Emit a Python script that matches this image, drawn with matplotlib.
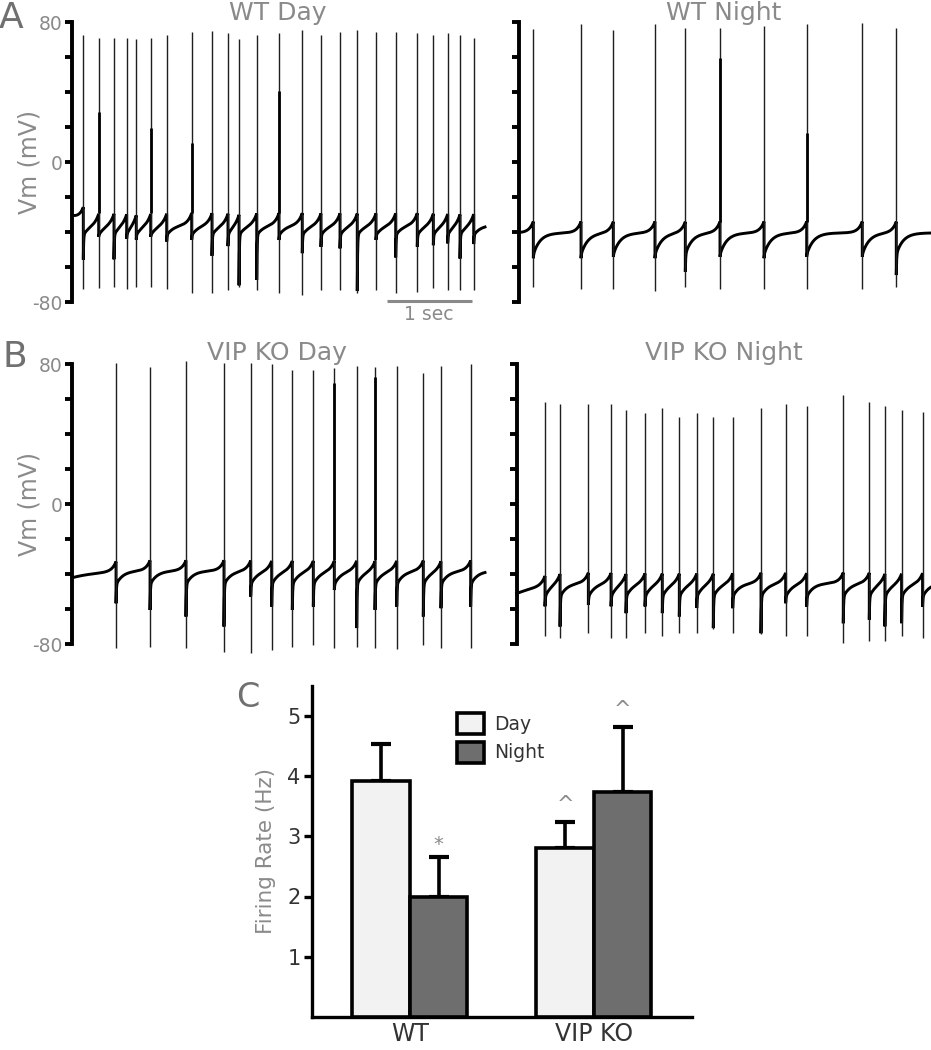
import numpy as np
import matplotlib
matplotlib.use("Agg")
import matplotlib.pyplot as plt

plt.rcParams['font.family'] = ['DejaVu Sans']

# ---------------- data ----------------
# spike times (s), spike peak / trough (mV), after-spike dip (mV)
wt_day_t = [0.133, 0.314, 0.494, 0.643, 0.756, 0.926, 1.114, 1.408, 1.647, 1.835, 1.965, 2.173,
            2.435, 2.709, 2.929, 3.153, 3.356, 3.576, 3.808, 4.062, 4.251, 4.420, 4.565, 4.726]
wt_day_peak = [72.6, 71.0, 71.0, 71.0, 70.1, 71.0, 72.6, 74.1, 74.9, 73.5, 70.1, 72.6,
               73.5, 75.4, 72.6, 74.1, 75.4, 74.1, 74.1, 73.5, 72.6, 73.5, 72.6, 71.0]
wt_day_trough = [-72.8, -72.2, -71.6, -72.8, -71.6, -71.6, -72.8, -75.0, -75.0, -73.1, -71.6, -73.1,
                 -75.0, -76.0, -73.1, -73.1, -75.0, -73.1, -75.0, -74.1, -72.2, -73.1, -73.1, -73.1]
wt_day_dip = [-56.0, -42.9, -56.0, -44.6, -44.6, -42.9, -45.5, -44.6, -53.8, -48.6, -70.6, -67.4,
              -44.6, -52.2, -48.6, -49.5, -73.8, -44.6, -54.6, -48.6, -47.8, -46.9, -55.5, -46.9]
wt_day_thick = {1: 28.8, 5: 19.3, 7: 10.7, 12: 40.7}

wt_night_t = [0.165, 0.726, 1.106, 1.596, 1.953, 2.361, 2.879, 3.381, 4.035, 4.435]
wt_night_peak = [76.0, 78.7, 75.4, 78.7, 76.4, 76.4, 77.7, 78.7, 79.6, 76.4]
wt_night_trough = [-71.2, -72.8, -72.8, -73.5, -71.6, -72.8, -72.8, -72.8, -72.8, -71.2]
wt_night_dip = [-55.0, -55.0, -54.2, -55.0, -62.7, -54.2, -55.0, -54.2, -54.2, -64.6]
wt_night_thick = {5: 59.3, 7: 16.8}

ko_day_t = [0.518, 0.918, 1.341, 1.788, 2.102, 2.349, 2.592, 2.839, 3.086, 3.349, 3.565,
            3.820, 4.133, 4.341, 4.690]
ko_day_peak = [81.0, 78.7, 82.1, 81.0, 81.0, 80.0, 76.8, 76.8, 77.7, 79.0, 78.7, 79.0, 74.9, 79.0, 80.0]
ko_day_trough = [-82.3, -81.3, -82.3, -84.2, -85.1, -83.2, -81.3, -80.4, -82.3, -81.3, -82.3,
                 -82.8, -80.4, -82.3, -82.3]
ko_day_dip = [-56.6, -60.4, -64.2, -69.9, -52.8, -58.5, -60.4, -58.5, -49.0, -70.8, -60.4,
              -58.5, -64.2, -59.4, -58.5]
ko_day_thick = {8: 69.2, 10: 73.0}

ko_night_t = [0.333, 0.510, 0.843, 1.110, 1.286, 1.510, 1.713, 1.913, 2.118, 2.313, 2.541,
              2.874, 3.164, 3.411, 3.842, 4.148, 4.332, 4.528, 4.775]
ko_night_peak = [58.6, 57.3, 57.3, 57.3, 53.9, 52.0, 55.2, 49.7, 52.0, 49.7, 49.7,
                 54.9, 57.3, 56.2, 62.5, 58.6, 56.2, 53.9, 53.0]
ko_night_trough = [-75.2, -76.6, -73.7, -76.6, -76.6, -73.7, -75.2, -73.7, -73.7, -71.4, -73.7,
                   -74.1, -75.2, -75.2, -79.4, -77.9, -77.9, -75.2, -76.6]
ko_night_dip = [-58.5, -69.9, -57.5, -58.5, -62.3, -58.5, -62.3, -64.2, -59.4, -70.8, -59.4,
                -73.7, -56.6, -58.5, -68.0, -66.1, -69.9, -68.0, -58.5]
ko_night_thick = {}

# resting / post-spike / pre-spike / starting levels (mV) per recording
wt_day_levels = dict(rest=-36.0, post=-42.0, thr=-29.0, start=-31.0)
wt_night_levels = dict(rest=-40.5, post=-53.0, thr=-34.0, start=-40.5)
ko_day_levels = dict(rest=-38.0, post=-46.0, thr=-32.0, start=-42.0)
ko_night_levels = dict(rest=-45.0, post=-53.0, thr=-39.0, start=-51.0)

# bar chart (C)
groups = ['WT', 'VIP KO']
day_rate = [3.92, 2.80]
day_sem = [0.62, 0.44]
night_rate = [2.00, 3.73]
night_sem = [0.65, 1.08]

# ---------------- styling ----------------
GREY = '#8a8a8a'
W, H = 931, 1050
SEC_PX = 85.0  # pixels per second in the traces


def fx(px):
    return px / W


def fy(py):
    return 1 - py / H


def build_trace(t_spk, dip, rest, post, thr, start, t_end, tau=0.08, tau_ramp=0.05):
    ts, vs = [], []
    edges = [0.0] + list(t_spk) + [t_end]
    for i in range(len(edges) - 1):
        a, b = edges[i], edges[i + 1]
        t = np.linspace(a, b, 160)
        dt = t - a
        if i == 0:
            v = rest + (start - rest) * np.exp(-dt / 0.3)
        else:
            d = dip[i - 1]
            v = rest + (post - rest) * np.exp(-dt / tau) + (d - post) * np.exp(-dt / 0.004)
        if i < len(edges) - 2:
            v = v + (thr - rest) * np.exp(-(b - t) / tau_ramp)
        ts.append(t)
        vs.append(v)
    return np.concatenate(ts), np.concatenate(vs)


def trace_panel(rect, t_spk, peak, trough, dip, thick, levels, labels=True):
    ax = fig.add_axes(rect)
    width_px = rect[2] * W
    t_end = width_px / SEC_PX
    t, v = build_trace(t_spk, dip, t_end=t_end, **levels)
    ax.plot(t, v, color='black', lw=2.1, clip_on=False, solid_joinstyle='miter')
    ax.vlines(t_spk, trough, peak, color='#1e1e1e', lw=1.0, clip_on=False)
    for idx, top in thick.items():
        ax.vlines(t_spk[idx], levels['thr'], top, color='black', lw=2.0, clip_on=False)
    ax.set_xlim(0, t_end)
    ax.set_ylim(-80, 80)
    for s in ['top', 'right', 'bottom']:
        ax.spines[s].set_visible(False)
    ax.spines['left'].set_linewidth(2.8)
    ax.xaxis.set_visible(False)
    ax.set_yticks(np.arange(-80, 81, 20))
    ax.tick_params(axis='y', length=5, width=2.8, color='black', labelcolor=GREY,
                   labelsize=13.5, pad=2)
    if labels:
        ax.set_yticklabels(['-80', '', '', '', '0', '', '', '', '80'])
        ax.set_ylabel('Vm (mV)', color=GREY, fontsize=17, labelpad=0)
        ax.yaxis.set_label_coords(-30 / width_px, 0.5)
    else:
        ax.set_yticklabels([])
    ax.patch.set_alpha(0)
    return ax


fig = plt.figure(figsize=(9.31, 10.5), dpi=100)
fig.set_facecolor('white')

# ---------------- panel A ----------------
axA1 = trace_panel([fx(72), fy(302), fx(413), 280 / H], wt_day_t, wt_day_peak, wt_day_trough,
                   wt_day_dip, wt_day_thick, wt_day_levels)
axA2 = trace_panel([fx(519.3), fy(302), fx(411.7), 280 / H], wt_night_t, wt_night_peak,
                   wt_night_trough, wt_night_dip, wt_night_thick, wt_night_levels, labels=False)
# 1 s scale bar
bar_start = 3.706
axA1.plot([bar_start, bar_start + 1.0], [-79.4, -79.4], color=GREY, lw=2.2, clip_on=False,
          solid_capstyle='butt')
fig.text(fx(429), fy(320), '1 sec', color=GREY, fontsize=13.5, ha='center', va='baseline')

# ---------------- panel B ----------------
axB1 = trace_panel([fx(72), fy(644.3), fx(413), 280 / H], ko_day_t, ko_day_peak, ko_day_trough,
                   ko_day_dip, ko_day_thick, ko_day_levels)
axB2 = trace_panel([fx(516.7), fy(644.3), fx(414.3), 280 / H], ko_night_t, ko_night_peak,
                   ko_night_trough, ko_night_dip, ko_night_thick, ko_night_levels, labels=False)

# titles and panel letters
fig.text(fx(278), fy(20), 'WT Day', color=GREY, fontsize=18, ha='center', va='baseline')
fig.text(fx(724), fy(20), 'WT Night', color=GREY, fontsize=18, ha='center', va='baseline')
fig.text(fx(277), fy(360.5), 'VIP KO Day', color=GREY, fontsize=18, ha='center', va='baseline')
fig.text(fx(724), fy(360.5), 'VIP KO Night', color=GREY, fontsize=18, ha='center', va='baseline')
fig.text(fx(-1), fy(28), 'A', color='#707070', fontsize=26, ha='left', va='baseline')
fig.text(fx(2), fy(367), 'B', color='#707070', fontsize=26, ha='left', va='baseline')
fig.text(fx(236), fy(707), 'C', color='#707070', fontsize=24, ha='left', va='baseline')

# ---------------- panel C ----------------
axC = fig.add_axes([fx(311.7), fy(1016.9), fx(692 - 311.7), (1016.9 - 685.8) / H])
x = np.arange(len(groups))
w = 0.3125
err_kw = dict(ecolor='black', elinewidth=2.6, capsize=7.5, capthick=3.0)
b_day = axC.bar(x - w / 2, day_rate, w, color='#f2f2f2', edgecolor='black', linewidth=2.6,
                label='Day', zorder=3)
b_night = axC.bar(x + w / 2, night_rate, w, color='#6e6e6e', edgecolor='black', linewidth=2.6,
                  label='Night', zorder=3)
axC.errorbar(x - w / 2, day_rate, yerr=[[0] * len(day_sem), day_sem], fmt='none', zorder=2,
             **err_kw)
axC.errorbar(x + w / 2, night_rate, yerr=[[0] * len(night_sem), night_sem], fmt='none', zorder=2,
             **err_kw)

# significance marks
axC.text(x[0] + w / 2, night_rate[0] + night_sem[0] + 0.06, '*', color=GREY, fontsize=14,
         ha='center', va='bottom')
axC.text(x[1] - w / 2, day_rate[1] + day_sem[1] + 0.12, '^', color=GREY, fontsize=15,
         ha='center', va='bottom')
axC.text(x[1] + w / 2, night_rate[1] + night_sem[1] + 0.12, '^', color=GREY, fontsize=15,
         ha='center', va='bottom')

axC.set_xlim(-0.534, 1.533)
axC.set_ylim(0, 5.5)
axC.set_yticks([1, 2, 3, 4, 5])
axC.set_xticks(x)
axC.set_xticklabels(groups)
for s in ['top', 'right']:
    axC.spines[s].set_visible(False)
for s in ['left', 'bottom']:
    axC.spines[s].set_linewidth(2.4)
axC.tick_params(axis='y', length=6, width=2.4, labelsize=15, labelcolor='#333333', pad=2)
axC.tick_params(axis='x', length=0, labelsize=17, labelcolor='#333333', pad=4)
axC.set_ylabel('Firing Rate (Hz)', color=GREY, fontsize=15.5)
axC.yaxis.set_label_coords(-36 / (692 - 311.7), 0.5)
axC.patch.set_alpha(0)

leg = axC.legend(handles=[b_day, b_night], loc='upper left',
                 bbox_to_anchor=(fx(457), fy(713)), bbox_transform=fig.transFigure,
                 frameon=False, fontsize=13.5, handlelength=1.45, handleheight=1.35,
                 handletextpad=0.55, labelspacing=0.4, borderpad=0, borderaxespad=0)
for txt in leg.get_texts():
    txt.set_color('#333333')

fig.savefig('out.png', dpi=100, facecolor='white')
